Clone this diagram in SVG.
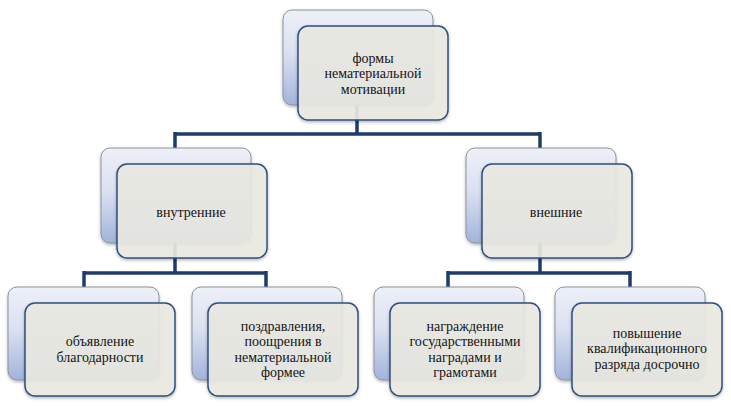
<svg xmlns="http://www.w3.org/2000/svg" width="731" height="406" viewBox="0 0 731 406">
  <defs>
    <linearGradient id="backGrad" x1="0" y1="0" x2="0" y2="1">
      <stop offset="0" stop-color="#eef0f8"/>
      <stop offset="0.45" stop-color="#dbe1f1"/>
      <stop offset="1" stop-color="#a2b3db"/>
    </linearGradient>
    <filter id="shadow" x="-10%" y="-10%" width="125%" height="130%">
      <feDropShadow dx="0" dy="1.5" stdDeviation="1.5" flood-color="#000" flood-opacity="0.3"/>
    </filter>
  </defs>
  <style>
    .back { fill: url(#backGrad); stroke: #8d929c; stroke-width: 1; filter: url(#shadow); }
    .front { fill: #ebeae3; fill-opacity: 0.9; stroke: #2f4f7f; stroke-width: 1.5; filter: url(#shadow); }
    .conn { fill: none; stroke: #1d3c6a; stroke-width: 3.5; stroke-linejoin: miter; }
    text { font-family: 'Liberation Serif', 'Times New Roman', 'DejaVu Serif', serif; font-size: 14px; fill: #141414; text-anchor: middle; }
  </style>
  <rect width="731" height="406" fill="#ffffff"/>

  <g id="connectors">
    <path class="conn" d="M357,105 V134 M175,134 H540 M175,132 V148 M540,132 V148"/>
    <path class="conn" d="M175,243 V273 M84,273 H266 M84,271 V287 M266,271 V287"/>
    <path class="conn" d="M540,243 V273 M448,273 H630 M448,271 V287 M630,271 V287"/>
  </g>

  <g id="node-top">
    <rect class="back" x="283" y="10" width="150" height="95" rx="9"/>
    <rect class="front" x="298" y="26" width="150" height="94" rx="10"/>
    <text x="373" y="62.5">формы</text>
    <text x="373" y="78">нематериальной</text>
    <text x="373" y="93.5">мотивации</text>
  </g>

  <g id="node-inner">
    <rect class="back" x="101" y="148" width="150" height="95" rx="9"/>
    <rect class="front" x="117" y="164" width="150" height="94" rx="10"/>
    <text x="191" y="217">внутренние</text>
  </g>

  <g id="node-outer">
    <rect class="back" x="466" y="148" width="150" height="95" rx="9"/>
    <rect class="front" x="482" y="164" width="150" height="94" rx="10"/>
    <text x="556" y="217">внешние</text>
  </g>

  <g id="node-gratitude">
    <rect class="back" x="8" y="287" width="151" height="93" rx="9"/>
    <rect class="front" x="25" y="303" width="150" height="93" rx="10"/>
    <text x="100" y="346.3">объявление</text>
    <text x="100" y="361.8">благодарности</text>
  </g>

  <g id="node-congrats">
    <rect class="back" x="192" y="287" width="150" height="93" rx="9"/>
    <rect class="front" x="208" y="303" width="150" height="93" rx="10"/>
    <text x="283" y="330.8">поздравления,</text>
    <text x="283" y="346.3">поощрения в</text>
    <text x="283" y="361.8">нематериальной</text>
    <text x="283" y="377.3">формее</text>
  </g>

  <g id="node-awards">
    <rect class="back" x="374" y="287" width="150" height="93" rx="9"/>
    <rect class="front" x="390" y="303" width="150" height="93" rx="10"/>
    <text x="465" y="330.8">награждение</text>
    <text x="465" y="346.3">государственными</text>
    <text x="465" y="361.8">наградами и</text>
    <text x="465" y="377.3">грамотами</text>
  </g>

  <g id="node-promotion">
    <rect class="back" x="555" y="287" width="150" height="93" rx="9"/>
    <rect class="front" x="572" y="303" width="150" height="93" rx="10"/>
    <text x="647" y="337.5">повышение</text>
    <text x="647" y="353">квалификационного</text>
    <text x="647" y="368.5">разряда досрочно</text>
  </g>
</svg>
